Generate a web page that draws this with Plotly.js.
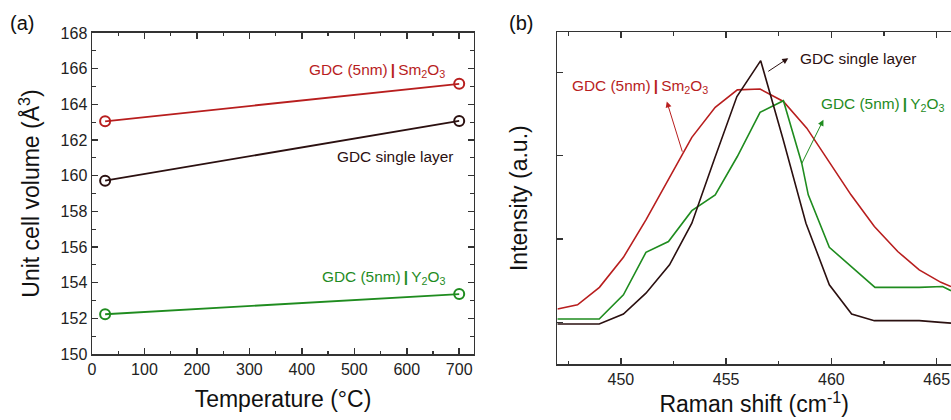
<!DOCTYPE html>
<html><head><meta charset="utf-8">
<script src="https://cdn.plot.ly/plotly-3.0.1.min.js"></script>
<style>body{margin:0;padding:0;background:#fff}#chart{width:951px;height:420px}</style>
</head><body><div id="chart"></div>
<script>
// Panel (a): unit cell volume vs temperature
const tempC = [25, 700];
const volSm = [163.05, 165.15];
const volSingle = [159.72, 163.07];
const volY = [152.23, 153.36];

// Panel (b): Raman spectra (arbitrary intensity units)
const singleX = [446.98, 448.97, 450.12, 451.19, 452.31, 453.37, 454.43, 455.51, 456.64, 457.70, 458.79, 459.90, 460.96, 462.04, 463.11, 464.17, 465.20, 465.68];
const singleI = [-0.02, -0.02, 0.10, 0.35, 0.69, 1.19, 1.95, 2.71, 3.14, 2.20, 1.19, 0.45, 0.10, 0.02, 0.02, 0.02, 0.00, -0.01];
const smX = [446.99, 447.94, 448.98, 450.12, 451.19, 452.29, 453.37, 454.48, 455.53, 456.61, 457.72, 458.83, 459.90, 460.93, 462.04, 463.15, 464.17, 465.20, 465.68];
const smI = [0.16, 0.21, 0.42, 0.78, 1.23, 1.73, 2.22, 2.58, 2.79, 2.80, 2.65, 2.33, 1.92, 1.53, 1.15, 0.85, 0.63, 0.48, 0.43];
const yX = [446.98, 448.97, 450.12, 451.19, 452.26, 453.37, 454.48, 455.53, 456.61, 457.72, 458.59, 458.90, 459.90, 460.98, 462.07, 463.15, 464.17, 465.28, 465.68];
const yI = [0.04, 0.04, 0.33, 0.84, 0.97, 1.34, 1.53, 1.99, 2.52, 2.66, 1.91, 1.53, 0.90, 0.66, 0.42, 0.42, 0.42, 0.43, 0.38];

const labelSm = 'GDC (5nm)\u2009<b>|</b>\u2009Sm<sub>2</sub>O<sub>3</sub>';
const labelSingle = 'GDC single layer';
const labelY = 'GDC (5nm)\u2009<b>|</b>\u2009Y<sub>2</sub>O<sub>3</sub>';

const RED = '#b81e1e', DARK = '#2b1010', GREEN = '#1f8c1f', AX = '#333333';
const FONT = 'Liberation Sans, Arial, Helvetica, sans-serif';
const ANN = 15.4;

function mk(x, y, c, xa, ya, markers) {
  return {x: x, y: y, xaxis: xa, yaxis: ya, type: 'scatter',
    mode: markers ? 'lines+markers' : 'lines',
    line: {color: c, width: markers ? 1.8 : 1.6},
    marker: {symbol: 'circle-open', size: 10, color: c, line: {width: 2, color: c}},
    showlegend: false, hoverinfo: 'skip'};
}

const data = [
  mk(tempC, volSm, RED, 'x', 'y', true),
  mk(tempC, volSingle, DARK, 'x', 'y', true),
  mk(tempC, volY, GREEN, 'x', 'y', true),
  mk(smX, smI, RED, 'x2', 'y2', false),
  mk(yX, yI, GREEN, 'x2', 'y2', false),
  mk(singleX, singleI, DARK, 'x2', 'y2', false)
];

const tickFont = {family: FONT, size: 16, color: '#222'};
const titleFont = {family: FONT, size: 23, color: '#111'};
const common = {showline: true, linecolor: AX, linewidth: 1.5, ticks: 'inside', tickcolor: AX,
  tickwidth: 1.5, ticklen: 6, showgrid: false, zeroline: false, tickfont: tickFont, automargin: false};

const layout = {
  width: 951, height: 420,
  margin: {l: 92, r: 0, t: 32, b: 56},
  paper_bgcolor: '#fff', plot_bgcolor: '#fff',
  font: {family: FONT},
  xaxis: Object.assign({}, common, {domain: [0, 0.4447], range: [0, 728.2], dtick: 100, tick0: 0,
    mirror: 'allticks', minor: {dtick: 50, ticks: 'inside', ticklen: 3.5, tickcolor: AX, tickwidth: 1.2},
    title: {text: 'Temperature (°C)', font: titleFont, standoff: 14}}),
  yaxis: Object.assign({}, common, {domain: [0.0301, 0.997], range: [150, 168], dtick: 2, tick0: 150,
    mirror: 'allticks', minor: {dtick: 1, ticks: 'inside', ticklen: 3.5, tickcolor: AX, tickwidth: 1.2},
    title: {text: 'Unit cell volume (Å<sup>3</sup>)', font: titleFont, standoff: 14}}),
  xaxis2: Object.assign({}, common, {anchor: 'y2', domain: [0.5417, 1], range: [446.98, 465.68], dtick: 5, tick0: 450,
    mirror: 'allticks', minor: {dtick: 2.5, ticks: 'inside', ticklen: 3.5, tickcolor: AX, tickwidth: 1.2},
    title: {text: 'Raman shift (cm<sup>-1</sup>)', font: titleFont, standoff: 8}}),
  yaxis2: Object.assign({}, common, {anchor: 'x2', domain: [0, 0.999], range: [-0.5, 3.48], dtick: 1, tick0: 0,
    showticklabels: false, mirror: false,
    title: {text: 'Intensity (a.u.)', font: titleFont, standoff: 22}}),
  annotations: [
    {xref: 'paper', yref: 'paper', x: -0.0978, y: 1.027, xanchor: 'left', yanchor: 'middle', text: '(a)', showarrow: false, font: {family: FONT, size: 20, color: '#111'}},
    {xref: 'paper', yref: 'paper', x: 0.4831, y: 1.027, xanchor: 'left', yanchor: 'middle', text: '(b)', showarrow: false, font: {family: FONT, size: 20, color: '#111'}},
    {xref: 'x', yref: 'y', x: 676, y: 165.9, xanchor: 'right', yanchor: 'middle', text: labelSm, showarrow: false, font: {family: FONT, size: ANN, color: RED}},
    {xref: 'x', yref: 'y', x: 692, y: 161.06, xanchor: 'right', yanchor: 'middle', text: labelSingle, showarrow: false, font: {family: FONT, size: ANN, color: DARK}},
    {xref: 'x', yref: 'y', x: 676, y: 154.3, xanchor: 'right', yanchor: 'middle', text: labelY, showarrow: false, font: {family: FONT, size: ANN, color: GREEN}},
    {xref: 'x2', yref: 'y2', x: 458.4, y: 3.17, xanchor: 'left', yanchor: 'middle', text: labelSingle, showarrow: false, font: {family: FONT, size: ANN, color: DARK}},
    {xref: 'x2', yref: 'y2', x: 447.6, y: 2.83, xanchor: 'left', yanchor: 'middle', text: labelSm, showarrow: false, font: {family: FONT, size: ANN, color: RED}},
    {xref: 'x2', yref: 'y2', x: 459.43, y: 2.62, xanchor: 'left', yanchor: 'middle', text: labelY, showarrow: false, font: {family: FONT, size: ANN, color: GREEN}},
    {xref: 'x2', yref: 'y2', x: 457.95, y: 3.17, axref: 'x2', ayref: 'y2', ax: 456.93, ay: 3.0, text: '', showarrow: true, arrowhead: 2, arrowsize: 1.2, arrowwidth: 1, arrowcolor: DARK},
    {xref: 'x2', yref: 'y2', x: 452.18, y: 2.65, axref: 'x2', ayref: 'y2', ax: 452.94, ay: 2.03, text: '', showarrow: true, arrowhead: 2, arrowsize: 1.2, arrowwidth: 1, arrowcolor: RED},
    {xref: 'x2', yref: 'y2', x: 459.62, y: 2.43, axref: 'x2', ayref: 'y2', ax: 458.56, ay: 1.89, text: '', showarrow: true, arrowhead: 2, arrowsize: 1.2, arrowwidth: 1, arrowcolor: GREEN}
  ]
};

Plotly.newPlot('chart', data, layout, {displayModeBar: false, staticPlot: true});
</script>
</body></html>
